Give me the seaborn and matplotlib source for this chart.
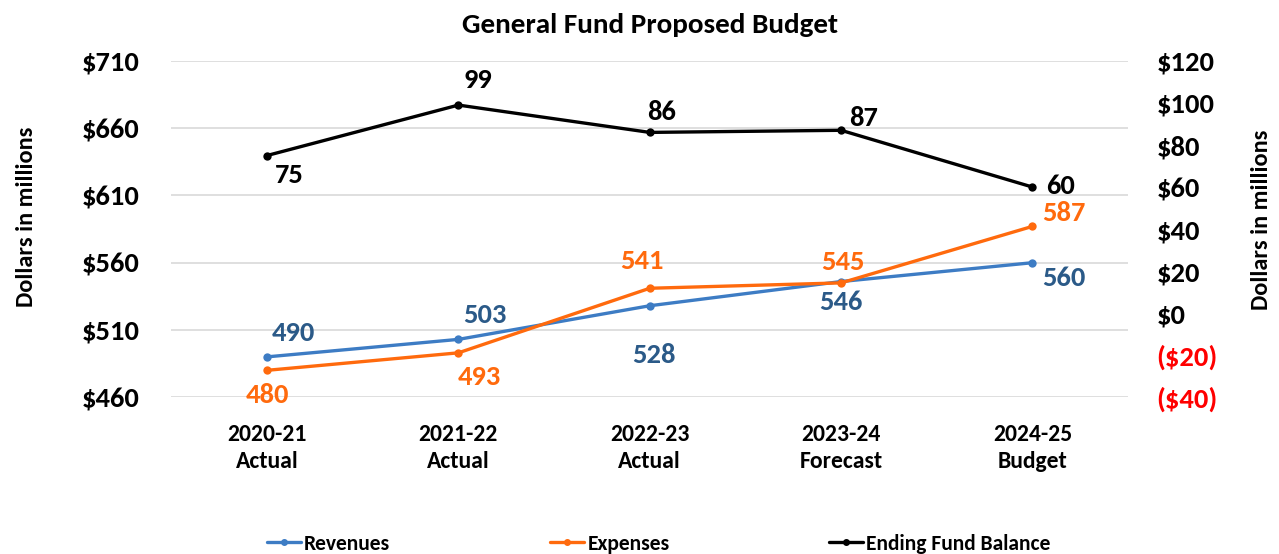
import matplotlib
matplotlib.use("Agg")
import matplotlib.pyplot as plt
import matplotlib.ticker as mticker
import seaborn as sns
import pandas as pd

# Fiscal years and series values (dollars in millions)
years = ["2020-21\nActual", "2021-22\nActual", "2022-23\nActual", "2023-24\nForecast", "2024-25\nBudget"]
revenues = [490, 503, 528, 546, 560]
expenses = [480, 493, 541, 545, 587]
fund_balance = [75, 99, 86, 87, 60]

left_ticks = [460, 510, 560, 610, 660, 710]
right_ticks = [-40, -20, 0, 20, 40, 60, 80, 100, 120]

blue_line = "#3D7CC4"
blue_text = "#2B5A88"
orange = "#FF6A0D"
black = "#000000"

sns.set_theme(style="white")
plt.rcParams["font.family"] = ["Carlito", "Lato", "DejaVu Sans"]
plt.rcParams["font.weight"] = "bold"
for key in ("text.color", "axes.labelcolor", "xtick.color", "ytick.color"):
    plt.rcParams[key] = black

df = pd.DataFrame({
    "x": list(range(len(years))) * 2,
    "value": revenues + expenses,
    "series": ["Revenues"] * len(years) + ["Expenses"] * len(years),
})
bal = pd.DataFrame({"x": list(range(len(years))), "value": fund_balance})

fig = plt.figure(figsize=(12.79, 5.54), dpi=100)
ax = fig.add_axes([0.134, 0.283, 0.748, 0.607])
ax2 = ax.twinx()

sns.lineplot(data=df, x="x", y="value", hue="series", palette={"Revenues": blue_line, "Expenses": orange},
             marker="o", markersize=6, markeredgewidth=0, linewidth=2.4, ax=ax, legend=False)
sns.lineplot(data=bal, x="x", y="value", color=black, marker="o", markersize=6,
             markeredgewidth=0, linewidth=2.4, ax=ax2, legend=False)

ax.set_xlim(-0.5, len(years) - 0.5)
ax.set_ylim(460, 710)
ax2.set_ylim(-40, 120)
ax.set_yticks(left_ticks)
ax2.set_yticks(right_ticks)
ax.set_xticks(range(len(years)))
ax.set_xticklabels(years, fontsize=17, fontweight="bold", linespacing=1.4)
ax.yaxis.set_major_formatter(mticker.FuncFormatter(lambda v, p: f"${v:,.0f}"))
ax2.yaxis.set_major_formatter(mticker.FuncFormatter(
    lambda v, p: f"(${abs(v):,.0f})" if v < 0 else f"${v:,.0f}"))
ax.tick_params(axis="y", labelsize=20.5, length=0, pad=23)
ax2.tick_params(axis="y", labelsize=20.5, length=0, pad=20.5)
ax.tick_params(axis="x", length=0, pad=19)
for lbl, v in zip(ax2.get_yticklabels(), right_ticks):
    lbl.set_color("#FF0000" if v < 0 else black)
    lbl.set_fontweight("bold")
for lbl in ax.get_yticklabels():
    lbl.set_fontweight("bold")

ax.grid(axis="y", color="#D9D9D9", linewidth=1.2)
ax.grid(axis="x", visible=False)
ax2.grid(False)
for a in (ax, ax2):
    for s in a.spines.values():
        s.set_visible(False)
ax.set_xlabel("")
ax.set_ylabel("Dollars in millions", fontsize=17.5, fontweight="bold")
ax2.set_ylabel("Dollars in millions", fontsize=17.5, fontweight="bold")
ax.yaxis.set_label_coords(-0.14, 0.536)
ax2.yaxis.set_label_coords(1.129, 0.527)
ax.set_title("General Fund Proposed Budget", fontsize=21, fontweight="bold", pad=20)

# Value labels (offsets in pixels)
rev_off = [(26, 24), (26, 24), (4, -49), (0, -20), (31, -15)]
exp_off = [(0, -25), (21, -24), (-8, 27), (2, 21), (31, 13)]
bal_off = [(22, -19), (19, 25), (12, 20), (22, 12), (28, 1)]
for i, v in enumerate(revenues):
    ax.annotate(f"{v}", (i, v), xytext=rev_off[i], textcoords="offset pixels",
                ha="center", va="center", fontsize=20.5, fontweight="bold", color=blue_text)
for i, v in enumerate(expenses):
    ax.annotate(f"{v}", (i, v), xytext=exp_off[i], textcoords="offset pixels",
                ha="center", va="center", fontsize=20.5, fontweight="bold", color=orange)
for i, v in enumerate(fund_balance):
    ax2.annotate(f"{v}", (i, v), xytext=bal_off[i], textcoords="offset pixels",
                 ha="center", va="center", fontsize=20.5, fontweight="bold", color=black)

handles = [
    plt.Line2D([], [], color=blue_line, marker="o", markersize=4, linewidth=2.4, label="Revenues"),
    plt.Line2D([], [], color=orange, marker="o", markersize=4, linewidth=2.4, label="Expenses"),
    plt.Line2D([], [], color=black, marker="o", markersize=4, linewidth=2.4, label="Ending Fund Balance"),
]
fig.legend(handles=handles, loc="center", bbox_to_anchor=(0.515, 0.018), ncol=3, frameon=False,
           prop={"size": 15.5, "weight": "bold"}, handlelength=1.6, handletextpad=0.15,
           columnspacing=7.4, markerfirst=True)

fig.savefig("out.png", dpi=100)
